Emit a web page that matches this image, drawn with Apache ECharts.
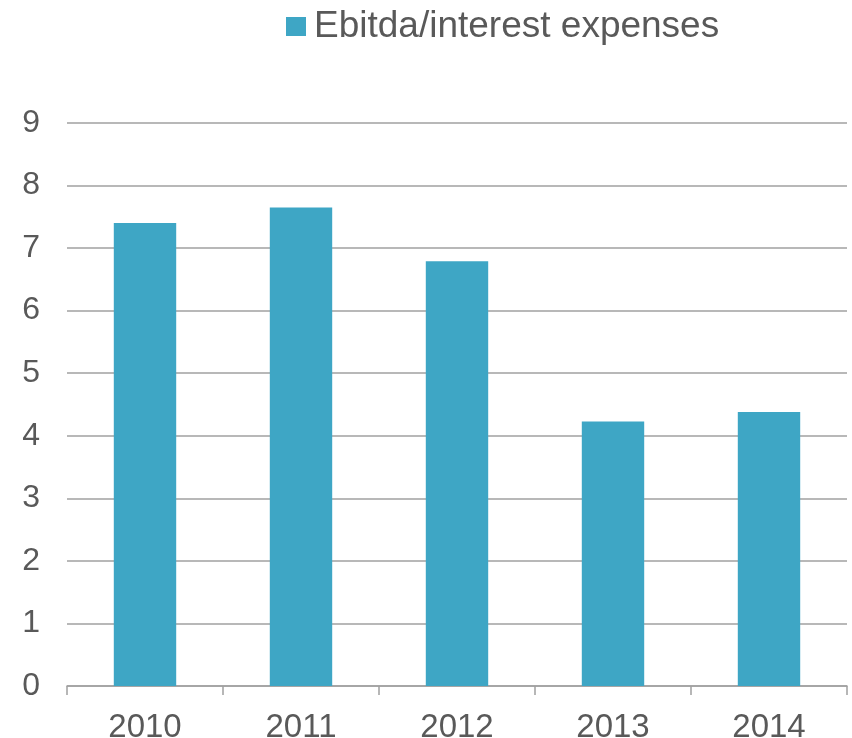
<!DOCTYPE html>
<html>
<head>
<meta charset="utf-8">
<script src="https://cdn.jsdelivr.net/npm/echarts@6/dist/echarts.min.js"></script>
<style>
  html, body { margin: 0; padding: 0; background: #ffffff; }
  #chart { width: 852px; height: 738px; }
</style>
</head>
<body>
<div id="chart"></div>
<script>
// Ebitda to interest expenses ratio by year
const years = ['2010', '2011', '2012', '2013', '2014'];
const ebitdaInterest = [7.40, 7.65, 6.79, 4.23, 4.38];
const seriesName = 'Ebitda/interest expenses';

const chart = echarts.init(document.getElementById('chart'));
const fontFamily = 'Liberation Sans, Arial, sans-serif';

chart.setOption({
  animation: false,
  legend: {
    data: [seriesName],
    icon: 'rect',
    top: 8,
    left: 286,
    padding: 0,
    itemWidth: 20,
    itemHeight: 19,
    textStyle: {
      fontFamily, fontSize: 37, color: '#595959',
      padding: [0, 0, 8, 3]
    }
  },
  grid: { left: 67, right: 5, top: 123, bottom: 52, outerBoundsMode: 'none' },
  xAxis: {
    type: 'category',
    data: years,
    axisLine: { lineStyle: { color: '#a0a0a0', width: 1.5 } },
    axisTick: { show: true, length: 9, lineStyle: { color: '#a0a0a0', width: 1.5 } },
    axisLabel: { fontFamily, fontSize: 33, color: '#595959', margin: 25 }
  },
  yAxis: {
    type: 'value',
    min: 0,
    max: 9,
    interval: 1,
    axisLine: { show: false },
    axisTick: { show: false },
    splitLine: { lineStyle: { color: '#a0a0a0', width: 1.5 } },
    axisLabel: { fontFamily, fontSize: 32, color: '#595959', margin: 27 }
  },
  series: [{
    name: seriesName,
    type: 'bar',
    data: ebitdaInterest,
    barWidth: '40%',
    itemStyle: { color: '#3ea6c5' }
  }]
});
</script>
</body>
</html>
